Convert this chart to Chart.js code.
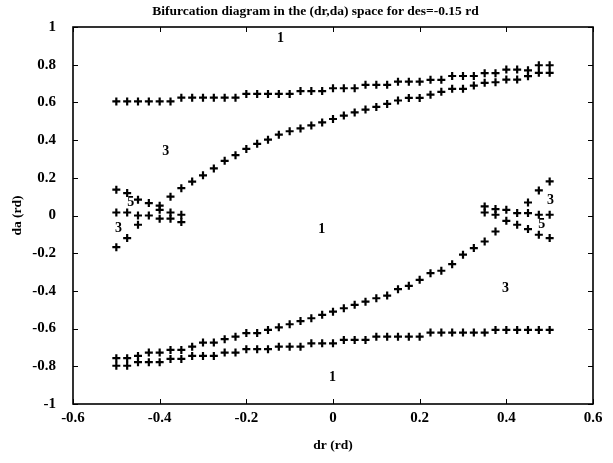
<!DOCTYPE html>
<html>
<head>
<meta charset="utf-8">
<script src="https://cdn.jsdelivr.net/npm/chart.js@4/dist/chart.umd.min.js"></script>
<style>
  html, body { margin: 0; padding: 0; background: #fff; }
  #wrap { width: 613px; height: 463px; }
</style>
</head>
<body>
<div id="wrap"><canvas id="c" width="613" height="463"></canvas></div>
<script>
// Bifurcation diagram in the (dr, da) plane, des = -0.15 rd

const DR = [-0.5, -0.475, -0.45, -0.425, -0.4, -0.375, -0.35, -0.325, -0.3, -0.275,
            -0.25, -0.225, -0.2, -0.175, -0.15, -0.125, -0.1, -0.075, -0.05, -0.025,
            0, 0.025, 0.05, 0.075, 0.1, 0.125, 0.15, 0.175, 0.2, 0.225,
            0.25, 0.275, 0.3, 0.325, 0.35, 0.375, 0.4, 0.425, 0.45, 0.475, 0.5];

// upper boundary (1 <-> 3 equilibria)
const upperOuterDa = [0.605, 0.605, 0.605, 0.605, 0.605, 0.605,
                      0.625, 0.625, 0.625, 0.625, 0.625, 0.625,
                      0.645, 0.645, 0.645, 0.645, 0.645,
                      0.66, 0.66, 0.66,
                      0.675, 0.675, 0.675,
                      0.693, 0.693, 0.693,
                      0.71, 0.71, 0.71,
                      0.72, 0.72,
                      0.74, 0.74, 0.74,
                      0.755, 0.755,
                      0.774, 0.774, 0.77,
                      0.797, 0.797];

// inner upper boundary, dr = -0.375 .. 0.5
const upperInnerDr = DR.slice(5);
const upperInnerDa = [0.10, 0.145, 0.18, 0.213, 0.25, 0.29, 0.32, 0.353, 0.38, 0.402,
                      0.429, 0.447, 0.462, 0.478, 0.494, 0.512, 0.53, 0.547, 0.562, 0.576,
                      0.592, 0.61, 0.624, 0.624, 0.641, 0.656, 0.672, 0.672, 0.689, 0.704,
                      0.707, 0.721, 0.721, 0.739, 0.757, 0.757];

// inner lower boundary, dr = -0.5 .. 0.375
const lowerInnerDr = DR.slice(0, 36);
const lowerInnerDa = [-0.757, -0.757, -0.745, -0.727, -0.727, -0.713, -0.713, -0.696, -0.674, -0.674,
                      -0.656, -0.643, -0.624, -0.624, -0.607, -0.593, -0.577, -0.56, -0.545, -0.527,
                      -0.51, -0.492, -0.474, -0.457, -0.439, -0.425, -0.391, -0.373, -0.341, -0.306,
                      -0.293, -0.258, -0.208, -0.173, -0.138, -0.085];

// lower boundary
const lowerOuterDa = [-0.797, -0.797,
                      -0.778, -0.778, -0.778,
                      -0.761, -0.761,
                      -0.745, -0.745, -0.745,
                      -0.727, -0.727,
                      -0.709, -0.709, -0.709,
                      -0.696, -0.696, -0.696,
                      -0.678, -0.678, -0.678,
                      -0.66, -0.66, -0.66,
                      -0.643, -0.643, -0.643, -0.643, -0.643,
                      -0.621, -0.621, -0.621, -0.621, -0.621, -0.621,
                      -0.607, -0.607, -0.607, -0.607, -0.607, -0.607];

// cusp region near dr = -0.5
const leftCuspDr = [-0.5, -0.475, -0.45, -0.425, -0.4, -0.4,
                    -0.5, -0.475, -0.45, -0.425, -0.4, -0.375, -0.375, -0.35, -0.35,
                    -0.45, -0.475, -0.5];
const leftCuspDa = [0.137, 0.119, 0.084, 0.066, 0.052, 0.03,
                    0.016, 0.016, 0.0, 0.0, -0.017, 0.016, -0.017, 0.004, -0.035,
                    -0.049, -0.12, -0.168];

// cusp region near dr = +0.5
const rightCuspDr = [0.5, 0.475, 0.45,
                     0.45, 0.425, 0.5, 0.475, 0.4, 0.4, 0.375, 0.375, 0.35, 0.35,
                     0.425, 0.45, 0.475, 0.5];
const rightCuspDa = [0.181, 0.133, 0.069,
                     0.013, 0.013, 0.004, 0.004, 0.03, -0.028, 0.034, 0.004, 0.048, 0.016,
                     -0.049, -0.072, -0.102, -0.12];

// number of equilibria in each region
const regionText = ['1', '3', '5', '3', '1', '3', '5', '3', '1'];
const regionDr   = [-0.121, -0.386, -0.467, -0.495, -0.026, 0.502, 0.482, 0.398, -0.001];
const regionDa   = [0.939, 0.339, 0.068, -0.07, -0.076, 0.078, -0.049, -0.389, -0.857];

const xTicks = [-0.6, -0.4, -0.2, 0, 0.2, 0.4, 0.6];
const yTicks = [-1, -0.8, -0.6, -0.4, -0.2, 0, 0.2, 0.4, 0.6, 0.8, 1];

const SERIF = '"Liberation Serif", "DejaVu Serif", serif';

function pts(xs, ys) { return xs.map((x, i) => ({ x: x, y: ys[i] })); }

const markStyle = {
  pointStyle: 'cross',
  pointRadius: 4,
  pointBorderWidth: 2.2,
  borderColor: '#000',
  backgroundColor: '#000',
  pointHoverRadius: 4,
  showLine: false
};

const series = [
  pts(DR, upperOuterDa),
  pts(upperInnerDr, upperInnerDa),
  pts(lowerInnerDr, lowerInnerDa),
  pts(DR, lowerOuterDa),
  pts(leftCuspDr, leftCuspDa),
  pts(rightCuspDr, rightCuspDa)
];

function fmt(v) { return String(parseFloat(Number(v).toFixed(1))); }

// box, inward ticks, titles and region numbers
const decor = {
  id: 'decor',
  afterDraw(chart) {
    const ctx = chart.ctx;
    const a = chart.chartArea;
    const xs = chart.scales.x, ys = chart.scales.y;
    ctx.save();
    ctx.strokeStyle = '#000';
    ctx.lineWidth = 1.6;
    ctx.strokeRect(a.left, a.top, a.right - a.left, a.bottom - a.top);
    ctx.lineWidth = 1;
    const tl = 5;
    ctx.beginPath();
    xTicks.forEach(v => {
      const p = Math.round(xs.getPixelForValue(v)) + 0.5;
      ctx.moveTo(p, a.bottom); ctx.lineTo(p, a.bottom - tl);
      ctx.moveTo(p, a.top); ctx.lineTo(p, a.top + tl);
    });
    yTicks.forEach(v => {
      const p = Math.round(ys.getPixelForValue(v)) + 0.5;
      ctx.moveTo(a.left, p); ctx.lineTo(a.left + tl, p);
      ctx.moveTo(a.right, p); ctx.lineTo(a.right - tl, p);
    });
    ctx.stroke();

    ctx.fillStyle = '#000';
    ctx.textAlign = 'center';
    ctx.textBaseline = 'middle';
    ctx.font = 'bold 13.5px ' + SERIF;
    ctx.fillText('Bifurcation diagram in the (dr,da) space for des=-0.15 rd', 315.5, 12);

    ctx.font = 'bold 13.5px ' + SERIF;
    ctx.fillText('dr (rd)', (a.left + a.right) / 2, 446);
    ctx.save();
    ctx.translate(18, (a.top + a.bottom) / 2);
    ctx.rotate(-Math.PI / 2);
    ctx.fillText('da (rd)', 0, 0);
    ctx.restore();

    ctx.font = 'bold 14px ' + SERIF;
    regionText.forEach((t, i) => {
      ctx.fillText(t, xs.getPixelForValue(regionDr[i]), ys.getPixelForValue(regionDa[i]));
    });
    ctx.restore();
  }
};

new Chart(document.getElementById('c'), {
  type: 'scatter',
  data: {
    datasets: series.map(d => Object.assign({ data: d }, markStyle))
  },
  options: {
    responsive: false,
    animation: false,
    events: [],
    layout: { padding: { top: 27, right: 20, left: 0, bottom: 0 } },
    plugins: { legend: { display: false }, tooltip: { enabled: false }, title: { display: false } },
    scales: {
      x: {
        type: 'linear', min: -0.6, max: 0.6,
        afterBuildTicks: s => { s.ticks = xTicks.map(v => ({ value: v })); },
        afterFit: s => { s.height = 59; },
        grid: { display: false, drawTicks: false },
        border: { display: false },
        ticks: { padding: 5, color: '#000', font: { family: SERIF, size: 15, weight: 'bold' }, callback: fmt, maxRotation: 0 }
      },
      y: {
        type: 'linear', min: -1, max: 1,
        afterBuildTicks: s => { s.ticks = yTicks.map(v => ({ value: v })); },
        afterFit: s => { s.width = 73; },
        grid: { display: false, drawTicks: false },
        border: { display: false },
        ticks: { padding: 17, color: '#000', font: { family: SERIF, size: 15, weight: 'bold' }, callback: fmt }
      }
    }
  },
  plugins: [decor]
});
</script>
</body>
</html>
